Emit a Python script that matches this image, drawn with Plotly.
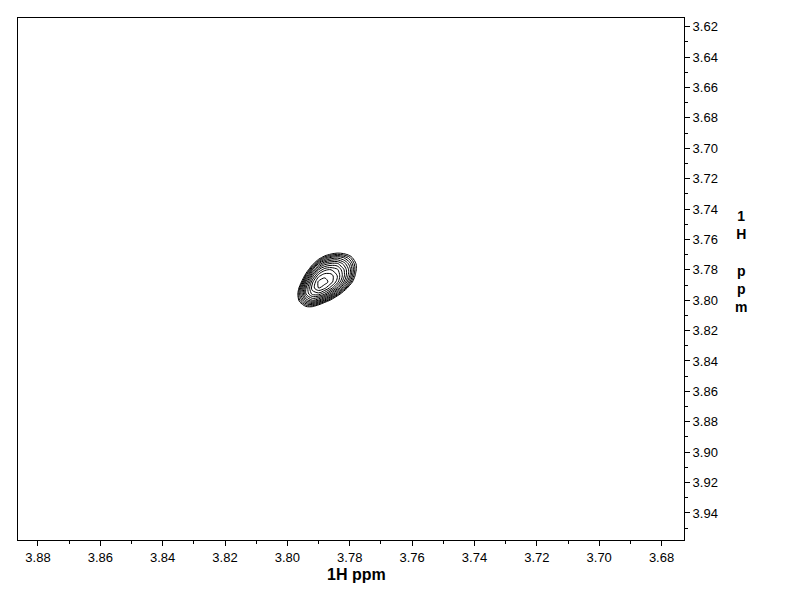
import plotly.graph_objects as go

# Chemical-shift grid (ppm) for the cross peak
x_ppm = [3.774, 3.776, 3.778, 3.780, 3.782, 3.784, 3.786, 3.788,
         3.790, 3.792, 3.794, 3.796, 3.798, 3.800]
y_ppm = [3.764, 3.768, 3.772, 3.776, 3.780, 3.784, 3.788, 3.792,
         3.796, 3.800, 3.804, 3.808]

# log intensity of the cross peak (rows follow y_ppm, columns follow x_ppm)
log_intensity = [
    [-10, -9.7, -8.7, -8.0, -7.8, -8.0, -8.6, -9.7, -10, -10, -10, -10, -10, -10],
    [-9.9, -8.2, -6.9, -6.0, -5.6, -5.5, -5.9, -6.7, -8.3, -10, -10, -10, -10, -10],
    [-9.2, -7.2, -5.7, -4.5, -3.8, -3.5, -3.7, -4.3, -5.6, -7.9, -10, -10, -10, -10],
    [-9.0, -6.8, -5.0, -3.6, -2.7, -2.1, -2.1, -2.4, -3.4, -5.4, -8.3, -10, -10, -10],
    [-9.4, -6.9, -4.9, -3.2, -2.1, -1.3, -1.0, -1.1, -1.8, -3.4, -6.0, -9.4, -10, -10],
    [-10, -7.5, -5.3, -3.4, -2.0, -1.0, -0.4, -0.3, -0.7, -2.0, -4.2, -7.3, -10, -10],
    [-10, -8.7, -6.2, -4.1, -2.5, -1.2, -0.4, 0.0, -0.1, -1.1, -2.9, -5.7, -9.3, -10],
    [-10, -10, -8.2, -5.8, -3.8, -2.3, -1.2, -0.5, -0.2, -0.8, -2.2, -4.5, -7.7, -10],
    [-10, -10, -10, -8.3, -6.0, -4.2, -2.8, -1.8, -1.2, -1.3, -2.2, -4.1, -6.9, -10],
    [-10, -10, -10, -10, -9.1, -6.9, -5.2, -3.9, -3.0, -2.6, -3.2, -4.6, -6.9, -10],
    [-10, -10, -10, -10, -10, -10, -8.6, -7.0, -5.6, -4.8, -4.9, -5.9, -7.8, -10],
    [-10, -10, -10, -10, -10, -10, -10, -10, -9.1, -7.9, -7.5, -8.1, -9.6, -10],
]

x_ticks = [3.88, 3.86, 3.84, 3.82, 3.80, 3.78, 3.76, 3.74, 3.72, 3.70, 3.68]
y_ticks = [3.62, 3.64, 3.66, 3.68, 3.70, 3.72, 3.74, 3.76, 3.78, 3.80,
           3.82, 3.84, 3.86, 3.88, 3.90, 3.92, 3.94]
x_range = [3.8864, 3.6728]
y_range = [3.9578, 3.6143]
axis_title = "1H ppm"
y_title_stack = "1<br>H<br><br>p<br>p<br>m"

fig = go.Figure()
fig.add_trace(go.Contour(
    x=x_ppm, y=y_ppm, z=log_intensity,
    contours=dict(coloring="lines", start=-5.0, end=-0.2, size=0.4),
    colorscale=[[0, "black"], [1, "black"]],
    line=dict(width=1, smoothing=0.9),
    showscale=False, hoverinfo="skip",
))

tick_font = dict(family="Liberation Sans, Arial, sans-serif", size=13, color="black")
common = dict(showgrid=False, zeroline=False, showline=True, linecolor="black",
              linewidth=1, mirror=True, ticks="outside", ticklen=5, tickwidth=1,
              tickcolor="black", tickfont=tick_font, tickformat=".2f")

fig.update_xaxes(range=x_range, tickvals=x_ticks,
                 minor=dict(dtick=0.01, ticks="outside", ticklen=3, tickcolor="black"),
                 **common)
fig.update_yaxes(range=y_range, tickvals=y_ticks, side="right",
                 minor=dict(dtick=0.01, ticks="outside", ticklen=3, tickcolor="black"),
                 **common)

# target screen pixel box of the plot area (page body has an 8px offset)
OFF = 8
W0, W1, H0, H1 = 18, 684, 18, 540

def px2paper(px, py):
    return (px - W0) / (W1 - W0), (H1 - py) / (H1 - H0)

annotations = []
ax, ay = px2paper(356.5, 574)
annotations.append(dict(text="<b>%s</b>" % axis_title, x=ax, y=ay, xref="paper", yref="paper",
                        showarrow=False, xanchor="center", yanchor="middle",
                        font=dict(family="Liberation Sans, Arial, sans-serif", size=16, color="black")))
cx, cy = px2paper(741, 262)
annotations.append(dict(text="<b>%s</b>" % y_title_stack, x=cx, y=cy, xref="paper", yref="paper",
                        showarrow=False, xanchor="center", yanchor="middle", align="center",
                        font=dict(family="Liberation Sans, Arial, sans-serif", size=14, color="black")))

FIG_W, FIG_H = 792 - OFF, 612 - OFF
fig.update_layout(
    width=FIG_W, height=FIG_H,
    margin=dict(l=W0 - OFF, r=792 - W1, t=H0 - OFF, b=612 - H1, pad=0),
    paper_bgcolor="white", plot_bgcolor="white",
    showlegend=False, annotations=annotations,
)

fig.write_html("out.html")
